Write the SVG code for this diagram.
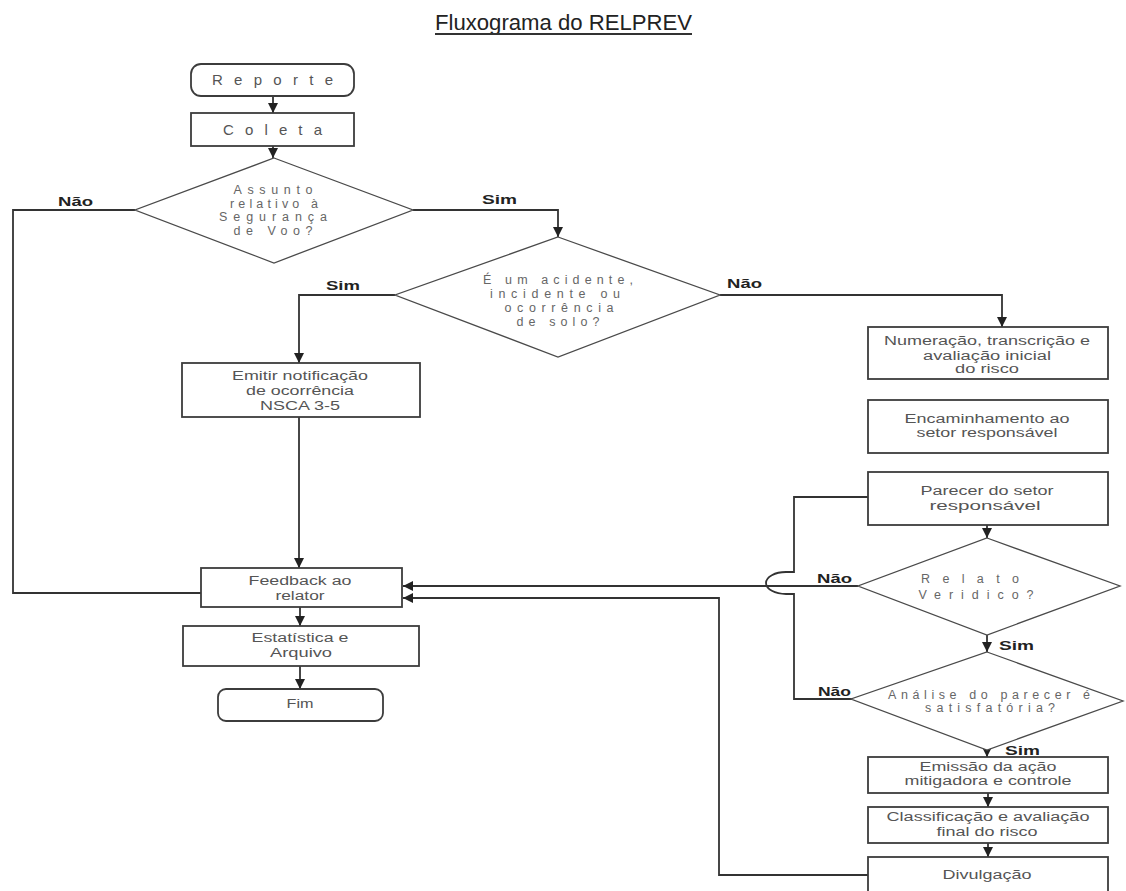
<svg xmlns="http://www.w3.org/2000/svg" width="1126" height="891" viewBox="0 0 1126 891">
<style>
.box{fill:#fff;stroke:#3c3c3c;stroke-width:1.8}
.dia{fill:#fff;stroke:#4a4a4a;stroke-width:1.3}
.t{font-family:"Liberation Sans",Arial,sans-serif;font-size:12px;fill:#555;text-anchor:middle}
.sp{font-family:"Liberation Sans",Arial,sans-serif;font-size:12.5px;fill:#666;text-anchor:middle}
.big{font-family:"Liberation Sans",Arial,sans-serif;font-size:15px;fill:#555;text-anchor:middle}
.lb{font-family:"Liberation Sans",Arial,sans-serif;font-size:12px;font-weight:bold;fill:#222}
.c{fill:none;stroke:#333;stroke-width:1.8}
</style>
<defs>
<marker id="ah" markerUnits="userSpaceOnUse" markerWidth="12" markerHeight="10" refX="10" refY="5" orient="auto">
<path d="M0,0 L10,5 L0,10 z" fill="#222"/>
</marker>
</defs>
<rect width="1126" height="891" fill="#fff"/>
<g id="title">
<text x="563.5" y="30" font-family="Liberation Sans,Arial,sans-serif" font-size="22" fill="#222" text-anchor="middle" textLength="257" lengthAdjust="spacingAndGlyphs">Fluxograma do RELPREV</text>
<line x1="435" y1="34" x2="692" y2="34" stroke="#333" stroke-width="1.8"/>
</g>
<g id="connectors">
<path class="c" d="M273,96 V113" marker-end="url(#ah)"/>
<path class="c" d="M273,146 V158" marker-end="url(#ah)"/>
<path class="c" d="M135,210 H13 V593 H201"/>
<path class="c" d="M413,210 H558 V237" marker-end="url(#ah)"/>
<path class="c" d="M395,295 H299 V363" marker-end="url(#ah)"/>
<path class="c" d="M720,295 H1002 V327" marker-end="url(#ah)"/>
<path class="c" d="M299,417 V568" marker-end="url(#ah)"/>
<path class="c" d="M300,607 V626" marker-end="url(#ah)"/>
<path class="c" d="M300,666 V689" marker-end="url(#ah)"/>
<path class="c" d="M987,525 V538" marker-end="url(#ah)"/>
<path class="c" d="M858,586 H403" marker-end="url(#ah)"/>
<path class="c" d="M987,635 V652" marker-end="url(#ah)"/>
<path class="c" d="M987,748 V757" marker-end="url(#ah)"/>
<path class="c" d="M852,699 H794 V594 H786 A20,11 0 0 1 786,572 H794 V497 H868"/>
<path class="c" d="M988,793 V807" marker-end="url(#ah)"/>
<path class="c" d="M988,843 V857" marker-end="url(#ah)"/>
<path class="c" d="M868,875 H719 V598 H403" marker-end="url(#ah)"/>
<text class="lb" x="58" y="206" textLength="35" lengthAdjust="spacingAndGlyphs">Não</text>
<text class="lb" x="482" y="204" textLength="35" lengthAdjust="spacingAndGlyphs">Sim</text>
<text class="lb" x="326" y="290" textLength="34" lengthAdjust="spacingAndGlyphs">Sim</text>
<text class="lb" x="727" y="288" textLength="35" lengthAdjust="spacingAndGlyphs">Não</text>
<text class="lb" x="817" y="583" textLength="35" lengthAdjust="spacingAndGlyphs">Não</text>
<text class="lb" x="999" y="650" textLength="35" lengthAdjust="spacingAndGlyphs">Sim</text>
<text class="lb" x="818" y="696" textLength="33" lengthAdjust="spacingAndGlyphs">Não</text>
<text class="lb" x="1005" y="755" textLength="35" lengthAdjust="spacingAndGlyphs">Sim</text>
</g>
<g id="reporte">
<rect class="box" x="191" y="64" width="163" height="32" rx="10"/>
<text class="big" x="272.5" y="85" textLength="121" lengthAdjust="spacing">Reporte</text>
</g>
<g id="coleta">
<rect class="box" x="191" y="113" width="163" height="33"/>
<text class="big" x="272.5" y="135" textLength="99" lengthAdjust="spacing">Coleta</text>
</g>
<g id="d1">
<polygon class="dia" points="274,158 413,210 274,263 135,210"/>
<text class="sp" x="273" y="194" textLength="79" lengthAdjust="spacing">Assunto</text>
<text class="sp" x="274" y="208" textLength="88" lengthAdjust="spacing">relativo à</text>
<text class="sp" x="273" y="221" textLength="108" lengthAdjust="spacing">Segurança</text>
<text class="sp" x="273" y="235" textLength="79" lengthAdjust="spacing">de Voo?</text>
</g>
<g id="d2">
<polygon class="dia" points="558,237 720,295 558,357 395,295"/>
<text class="sp" x="558" y="284" textLength="150" lengthAdjust="spacing">É um acidente,</text>
<text class="sp" x="555" y="298" textLength="130" lengthAdjust="spacing">incidente ou</text>
<text class="sp" x="559" y="312" textLength="109" lengthAdjust="spacing">ocorrência</text>
<text class="sp" x="558" y="326" textLength="83" lengthAdjust="spacing">de solo?</text>
</g>
<g id="emitir">
<rect class="box" x="182" y="363" width="238" height="54"/>
<text class="t" x="300" y="380" textLength="136" lengthAdjust="spacingAndGlyphs">Emitir notificação</text>
<text class="t" x="300" y="395" textLength="108" lengthAdjust="spacingAndGlyphs">de ocorrência</text>
<text class="t" x="300" y="410" textLength="80" lengthAdjust="spacingAndGlyphs">NSCA 3-5</text>
</g>
<g id="numeracao">
<rect class="box" x="868" y="327" width="240" height="52"/>
<text class="t" x="987" y="345" textLength="206" lengthAdjust="spacingAndGlyphs">Numeração, transcrição e</text>
<text class="t" x="987" y="360" textLength="128" lengthAdjust="spacingAndGlyphs">avaliação inicial</text>
<text class="t" x="987" y="373" textLength="64" lengthAdjust="spacingAndGlyphs">do risco</text>
</g>
<g id="encaminhamento">
<rect class="box" x="868" y="400" width="240" height="53"/>
<text class="t" x="987" y="423" textLength="165" lengthAdjust="spacingAndGlyphs">Encaminhamento ao</text>
<text class="t" x="987" y="437" textLength="141" lengthAdjust="spacingAndGlyphs">setor responsável</text>
</g>
<g id="parecer">
<rect class="box" x="868" y="472" width="240" height="53"/>
<text class="t" x="987" y="495" textLength="133" lengthAdjust="spacingAndGlyphs">Parecer do setor</text>
<text class="t" x="985" y="510" textLength="111" lengthAdjust="spacingAndGlyphs">responsável</text>
</g>
<g id="d3">
<polygon class="dia" points="987,538 1120,586 987,635 858,586"/>
<text class="sp" x="970" y="583" textLength="98" lengthAdjust="spacing">Relato</text>
<text class="sp" x="976" y="599" textLength="115" lengthAdjust="spacing">Veridico?</text>
</g>
<g id="d4">
<polygon class="dia" points="987,652 1123,701 987,750 851,699"/>
<text class="sp" x="989" y="699" textLength="202" lengthAdjust="spacing">Análise do parecer é</text>
<text class="sp" x="990" y="712" textLength="130" lengthAdjust="spacing">satisfatória?</text>
</g>
<g id="feedback">
<rect class="box" x="201" y="568" width="201" height="39"/>
<text class="t" x="300" y="585" textLength="103" lengthAdjust="spacingAndGlyphs">Feedback ao</text>
<text class="t" x="300" y="600" textLength="49" lengthAdjust="spacingAndGlyphs">relator</text>
</g>
<g id="estatistica">
<rect class="box" x="183" y="626" width="236" height="40"/>
<text class="t" x="300" y="642" textLength="97" lengthAdjust="spacingAndGlyphs">Estatística e</text>
<text class="t" x="301" y="657" textLength="62" lengthAdjust="spacingAndGlyphs">Arquivo</text>
</g>
<g id="fim">
<rect class="box" x="218" y="689" width="165" height="32" rx="8"/>
<text class="t" x="300" y="708" textLength="27" lengthAdjust="spacingAndGlyphs">Fim</text>
</g>
<g id="emissao">
<rect class="box" x="868" y="757" width="240" height="36"/>
<text class="t" x="988" y="771" textLength="137" lengthAdjust="spacingAndGlyphs">Emissão da ação</text>
<text class="t" x="988" y="785" textLength="167" lengthAdjust="spacingAndGlyphs">mitigadora e controle</text>
</g>
<g id="classificacao">
<rect class="box" x="868" y="807" width="240" height="36"/>
<text class="t" x="988" y="821" textLength="203" lengthAdjust="spacingAndGlyphs">Classificação e avaliação</text>
<text class="t" x="987" y="836" textLength="101" lengthAdjust="spacingAndGlyphs">final do risco</text>
</g>
<g id="divulgacao">
<rect class="box" x="868" y="857" width="240" height="50"/>
<text class="t" x="987" y="879" textLength="89" lengthAdjust="spacingAndGlyphs">Divulgação</text>
</g>
</svg>
